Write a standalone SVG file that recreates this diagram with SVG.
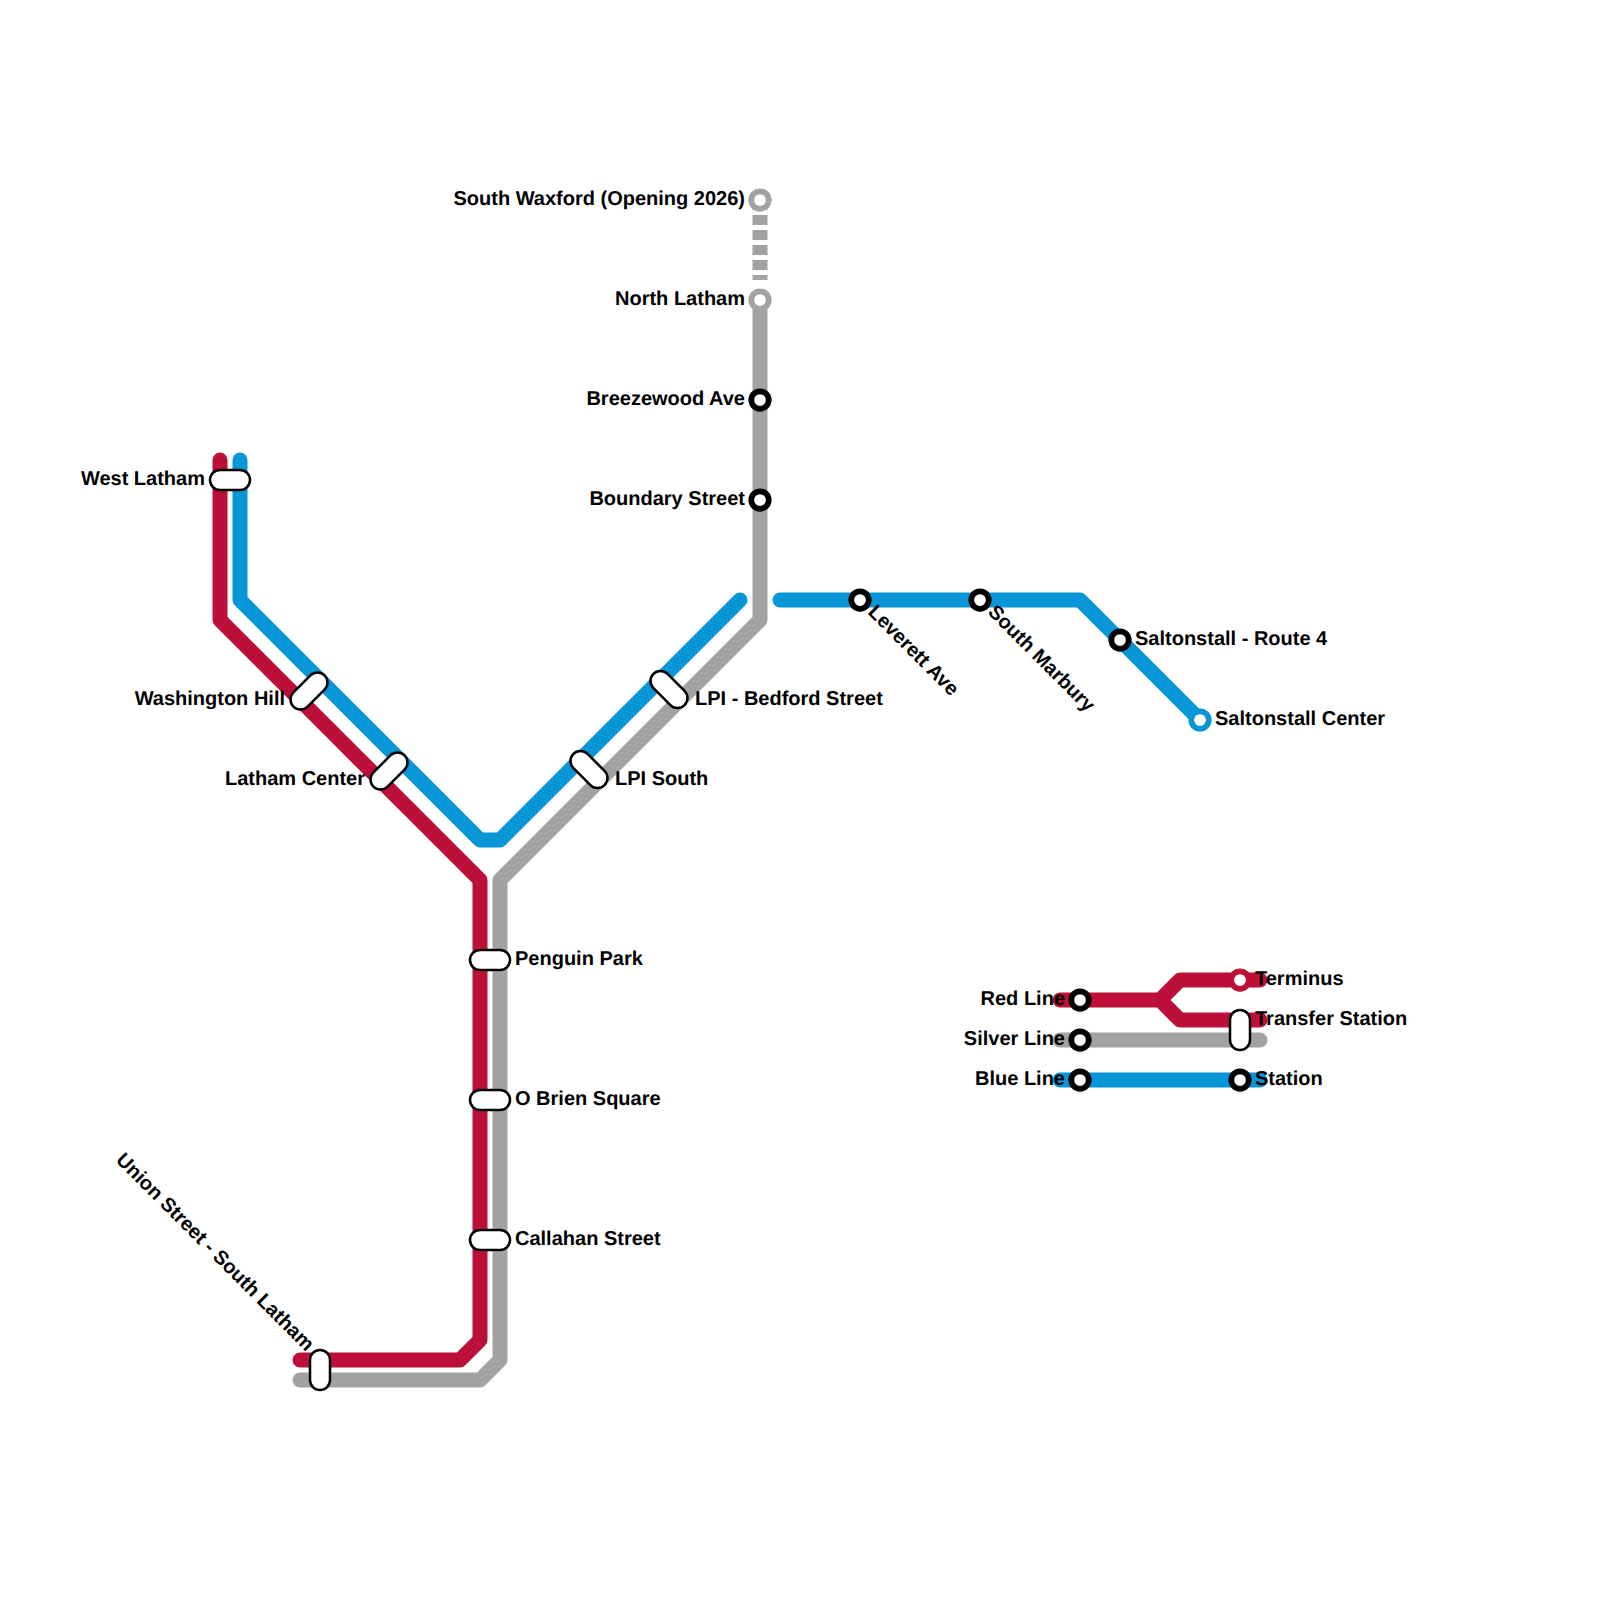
<svg xmlns="http://www.w3.org/2000/svg" width="1600" height="1600" viewBox="0 0 1600 1600">
<style>
.l{fill:none;stroke-width:15;stroke-linecap:round;stroke-linejoin:round}
.r{stroke:#bd1038}.g{stroke:#a2a2a2}.b{stroke:#0896d7}
.s{fill:#fff;stroke:#000;stroke-width:5.75}
.p{fill:#fff;stroke:#000;stroke-width:2.5}
text{font-family:"Liberation Sans",Arial,sans-serif;font-weight:700;font-size:20px;fill:#000;text-rendering:geometricPrecision}
.e{text-anchor:end}
</style>
<defs>
<rect id="pill" x="-20" y="-10" width="40" height="20" rx="10" ry="10" class="p"/>
<rect id="pilld" x="-22" y="-10" width="44" height="20" rx="10" ry="10" class="p"/>
</defs>
<rect width="1600" height="1600" fill="#fff"/>
<g id="connectors">
<path class="l r" d="M220 460V620L480 880V1340L460 1360H300"/>
<path class="l g" d="M760 300V620L500 880V1360L480 1380H300"/>
<path class="l g" style="stroke-linecap:butt" stroke-dasharray="10 5" d="M760 200V280"/>
<path class="l b" d="M240 460V600L480 840H500L740 600"/>
<path class="l b" d="M780 600H1080L1200 720"/>
<path class="l r" d="M1060 1000H1160L1180 980H1260M1160 1000L1180 1020H1260"/>
<path class="l g" d="M1060 1040H1260"/>
<path class="l b" d="M1060 1080H1260"/>
</g>
<g id="st-south-waxford"><circle cx="760" cy="200" r="8.75" class="s" style="stroke:#a2a2a2"/><text class="e" x="745" y="205">South Waxford (Opening 2026)</text></g>
<g id="st-north-latham"><circle cx="760" cy="300" r="8.75" class="s" style="stroke:#a2a2a2"/><text class="e" x="745" y="305">North Latham</text></g>
<g id="st-breezewood"><circle cx="760" cy="400" r="8.75" class="s"/><text class="e" x="745" y="405">Breezewood Ave</text></g>
<g id="st-boundary"><circle cx="760" cy="500" r="8.75" class="s"/><text class="e" x="745" y="505">Boundary Street</text></g>
<g id="st-west-latham"><use href="#pill" x="230" y="480"/><text class="e" x="205" y="485">West Latham</text></g>
<g id="st-washington"><use href="#pilld" transform="translate(309 691) rotate(-45)"/><text class="e" x="285" y="705">Washington Hill</text></g>
<g id="st-latham-center"><use href="#pilld" transform="translate(389 771) rotate(-45)"/><text class="e" x="365" y="785">Latham Center</text></g>
<g id="st-lpi-south"><use href="#pilld" transform="translate(589 769.500) rotate(45)"/><text x="615" y="785">LPI South</text></g>
<g id="st-lpi-bedford"><use href="#pilld" transform="translate(669 689.500) rotate(45)"/><text x="695" y="705">LPI - Bedford Street</text></g>
<g id="st-penguin"><use href="#pill" x="490" y="960"/><text x="515" y="965">Penguin Park</text></g>
<g id="st-obrien"><use href="#pill" x="490" y="1100"/><text x="515" y="1105">O Brien Square</text></g>
<g id="st-callahan"><use href="#pill" x="490" y="1240"/><text x="515" y="1245">Callahan Street</text></g>
<g id="st-union"><use href="#pill" transform="translate(320 1370) rotate(90)"/><text class="e" transform="translate(306 1352) rotate(45)">Union Street - South Latham</text></g>
<g id="st-leverett"><circle cx="860" cy="600" r="8.75" class="s"/><text transform="translate(867 613) rotate(45)">Leverett Ave</text></g>
<g id="st-marbury"><circle cx="980" cy="600" r="8.75" class="s"/><text transform="translate(987 613) rotate(45)">South Marbury</text></g>
<g id="st-route4"><circle cx="1120" cy="640" r="8.75" class="s"/><text x="1135" y="645">Saltonstall - Route 4</text></g>
<g id="st-center"><circle cx="1200" cy="720" r="8.75" class="s" style="stroke:#0896d7"/><text x="1215" y="725">Saltonstall Center</text></g>
<g id="lg-red"><circle cx="1080" cy="1000" r="8.75" class="s"/><text class="e" x="1065" y="1005">Red Line</text></g>
<g id="lg-silver"><circle cx="1080" cy="1040" r="8.75" class="s"/><text class="e" x="1065" y="1045">Silver Line</text></g>
<g id="lg-blue"><circle cx="1080" cy="1080" r="8.75" class="s"/><text class="e" x="1065" y="1085">Blue Line</text></g>
<g id="lg-terminus"><circle cx="1240" cy="980" r="8.75" class="s" style="stroke:#bd1038"/><text x="1255" y="985">Terminus</text></g>
<g id="lg-transfer"><use href="#pill" transform="translate(1240 1030) rotate(90)"/><text x="1255" y="1025">Transfer Station</text></g>
<g id="lg-station"><circle cx="1240" cy="1080" r="8.75" class="s"/><text x="1255" y="1085">Station</text></g>
</svg>
